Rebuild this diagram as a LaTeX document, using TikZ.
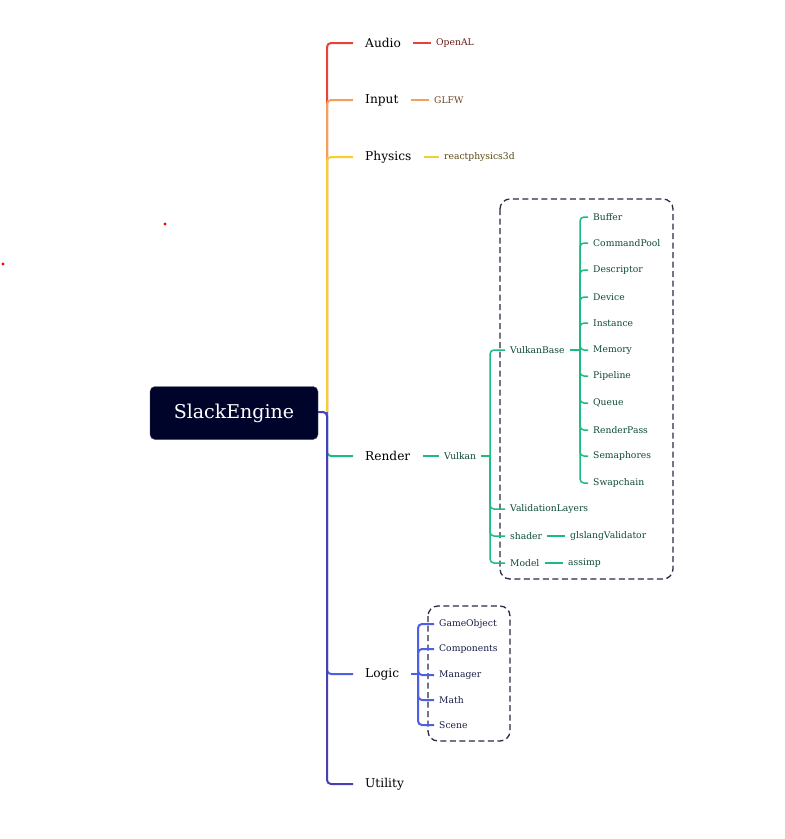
\documentclass[tikz,border=0pt]{standalone}
\usepackage{fontspec}
\setmainfont{DejaVu Serif}

\definecolor{rootfill}{HTML}{01042A}
\definecolor{framecol}{HTML}{2B2B45}
\definecolor{audiored}{HTML}{E8413A}
\definecolor{inputorange}{HTML}{F2A05A}
\definecolor{physyellow}{HTML}{F5CF2E}
\definecolor{rendergreen}{HTML}{1DBB80}
\definecolor{logicblue}{HTML}{4C5FE6}
\definecolor{utilindigo}{HTML}{4A3FB2}

\tikzset{
  branch/.style={anchor=west, inner xsep=12pt, inner ysep=2pt, font=\fontsize{12.2}{14}\selectfont},
  leaf/.style={anchor=west, inner xsep=5pt, inner ysep=1pt, font=\fontsize{9.2}{11}\selectfont},
  twig/.style={line width=2pt, rounded corners=4pt},
  thintwig/.style={line width=1.5pt, rounded corners=4pt, rendergreen},
  frame/.style={draw=framecol, dash pattern=on 6pt off 3.5pt, line width=1.3pt, rounded corners=10pt}
}

\begin{document}
\begin{tikzpicture}[x=1pt, y=-1pt]
    \useasboundingbox (0,0) rectangle (785,839);
    \fill[white] (0,0) rectangle (785,839);

    % centre
    \node[fill=rootfill, draw=rootfill!70!white, rounded corners=5pt, minimum width=168pt,
          minimum height=53pt, text=white, font=\fontsize{19}{22}\selectfont] (root) at (234,413) {SlackEngine};
    \coordinate (hub) at (327,412);

    \node[branch] (audio) at (353,43) {Audio};
    \node[branch] (input) at (353,100) {Input};
    \node[branch] (physics) at (353,157) {Physics};
    \node[branch] (render) at (353,456) {Render};
    \node[branch] (logic) at (353,674) {Logic};
    \node[branch] (utility) at (353,784) {Utility};

    \draw[twig, audiored] (hub) |- (audio.west);
    \draw[twig, inputorange] (hub) |- (input.west);
    \draw[twig, physyellow] (hub) |- (physics.west);
    \draw[twig, rendergreen] (hub) |- (render.west);
    \draw[twig, logicblue] (hub) |- (logic.west);
    \draw[twig, utilindigo] (root.east |- hub) -- (hub) |- (utility.west);

    \node[leaf, text=audiored!45!black] (openal) at (431,43) {OpenAL};
    \node[leaf, text=inputorange!45!black] (glfw) at (429,100) {GLFW};
    \node[leaf, text=physyellow!35!black] (reactphys) at (439,157) {reactphysics3d};
    \draw[twig, audiored] (audio.east) -- (openal.west);
    \draw[twig, inputorange] (input.east) -- (glfw.west);
    \draw[twig, physyellow] (physics.east) -- (reactphys.west);

    % render
    \draw[frame] (500,199) rectangle (673,579);
    \node[leaf, text=rendergreen!40!black] (vulkan) at (439,456) {Vulkan};
    \draw[twig, rendergreen] (render.east) -- (vulkan.west);
    \coordinate (vk) at (490,456);
    \draw[thintwig] (vulkan.east) -- (vk);
    \foreach \name/\label/\y in {vulkanbase/VulkanBase/350, layers/ValidationLayers/509,
                                shader/shader/536, model/Model/563} {
        \node[leaf, text=rendergreen!40!black] (\name) at (505,\y) {\label};
        \draw[thintwig] (vk) |- (\name.west);
    }
    \coordinate (vb) at (580,350);
    \draw[thintwig] (vulkanbase.east) -- (vb);
    \foreach \name/\y in {Buffer/217, CommandPool/243, Descriptor/270, Device/297, Instance/323,
                          Memory/350, Pipeline/376, Queue/403, RenderPass/430, Semaphores/456,
                          Swapchain/483} {
        \node[leaf, text=rendergreen!40!black] (\name) at (588,\y) {\name};
        \draw[thintwig] (vb) |- (\name.west);
    }
    \node[leaf, text=rendergreen!40!black] (glslang) at (565,536) {glslangValidator};
    \node[leaf, text=rendergreen!40!black] (assimp) at (563,563) {assimp};
    \draw[thintwig] (shader.east) -- (glslang.west);
    \draw[thintwig] (model.east) -- (assimp.west);

    % logic
    \draw[frame] (428,606) rectangle (510,741);
    \coordinate (lg) at (418,674);
    \draw[twig, logicblue] (logic.east) -- (lg);
    \foreach \name/\y in {GameObject/624, Components/649, Manager/675, Math/700, Scene/725} {
        \node[leaf, text=logicblue!30!black] (\name) at (434,\y) {\name};
        \draw[twig, logicblue] (lg) |- (\name.west);
    }

    \fill[red] (165,224) circle (1.6pt);
    \fill[red] (3,264) circle (1.6pt);
\end{tikzpicture}
\end{document}
